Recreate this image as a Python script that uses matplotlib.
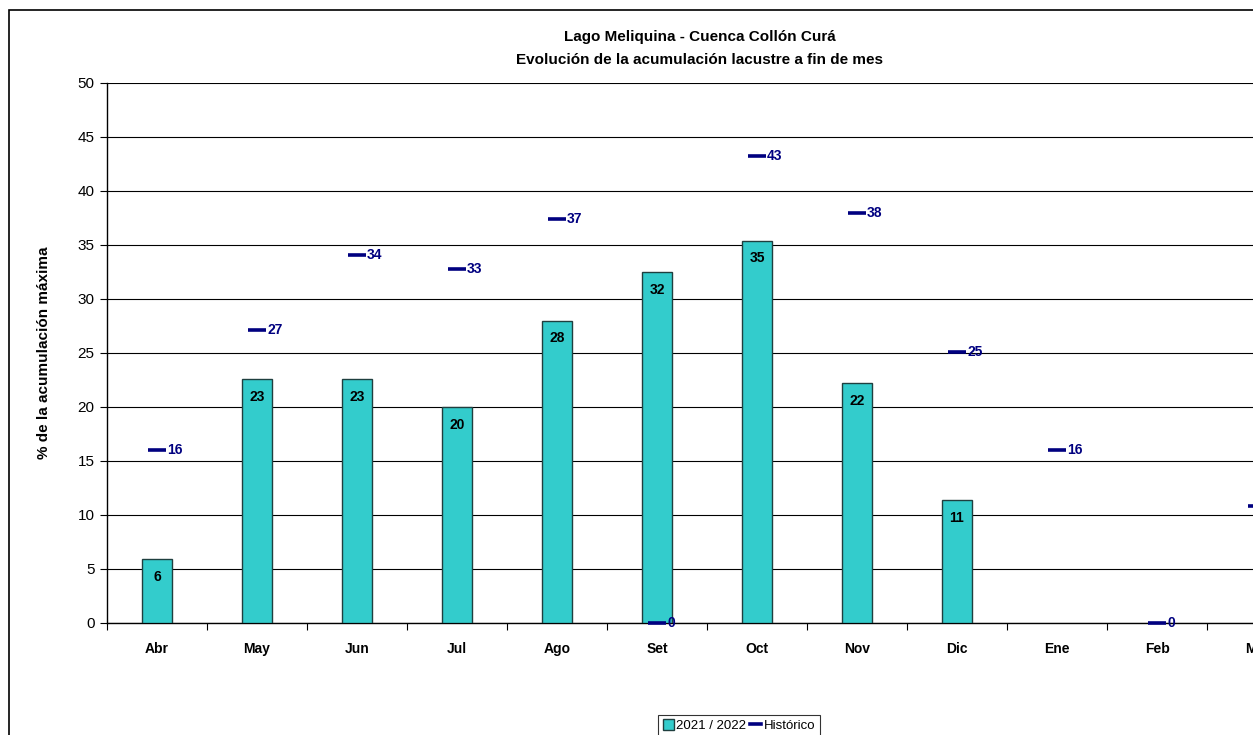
import numpy as np
import matplotlib
matplotlib.use("Agg")
from matplotlib import pyplot as plt
from matplotlib.patches import Rectangle, Patch
from matplotlib.lines import Line2D

months = ["Abr", "May", "Jun", "Jul", "Ago", "Set", "Oct", "Nov", "Dic", "Ene", "Feb", "Mar"]
actual = [5.9, 22.6, 22.6, 20.0, 28.0, 32.5, 35.4, 22.2, 11.4, None, None, None]
historico = [16.0, 27.1, 34.1, 32.8, 37.4, 0.0, 43.2, 38.0, 25.1, 16.0, 0.0, 10.8]

NARROW = ["Liberation Sans Narrow", "Liberation Sans", "DejaVu Sans"]
plt.rcParams["font.family"] = ["Liberation Sans", "DejaVu Sans"]

fig = plt.figure(figsize=(12.53, 7.35), dpi=100)
W, H = 1253, 735

# outer chart frame
fig.patches.append(Rectangle((9 / W, -0.1), 1.2, (H - 10) / H + 0.1, transform=fig.transFigure,
                             fill=False, edgecolor="black", linewidth=1.2))

ax = fig.add_axes([107 / W, (H - 623) / H, 1200 / W, 540 / H])
x = np.arange(len(months))

bar_x = [i for i, v in enumerate(actual) if v is not None]
bar_v = [v for v in actual if v is not None]
ax.bar(bar_x, bar_v, width=0.3, color="#33CCCC", edgecolor="#1f3f3f", linewidth=1.0, zorder=3)
for i, v in zip(bar_x, bar_v):
    ax.text(i, v - 1.0, f"{v:.0f}", ha="center", va="top", fontsize=10, fontweight="bold",
            color="black", zorder=5)

ax.scatter(x, historico, marker="_", s=180, linewidths=2.6, color="#000080", zorder=4, clip_on=False)
for i, v in zip(x, historico):
    ax.text(i + 0.1, v, f"{v:.0f}", ha="left", va="center", fontsize=10, fontweight="bold",
            color="#000080", zorder=5)

ax.set_xlim(-0.5, len(months) - 0.5)
ax.set_ylim(0, 50)
ax.set_yticks(np.arange(0, 51, 5))
ax.yaxis.grid(True, color="black", linewidth=0.8)
ax.set_axisbelow(True)
ax.set_xticks(np.arange(-0.5, len(months), 1))
ax.set_xticklabels([])
ax.set_xticks(x, minor=True)
ax.set_xticklabels(months, minor=True, fontweight="bold", fontsize=10, family=NARROW)
ax.tick_params(axis="x", which="minor", length=0, pad=14)
ax.tick_params(axis="x", which="major", length=5, direction="out")
ax.tick_params(axis="y", length=5, labelsize=11, pad=4)
for s in ["top", "right"]:
    ax.spines[s].set_visible(False)
ax.spines["left"].set_linewidth(1.0)
ax.spines["bottom"].set_linewidth(1.0)

ax.set_ylabel("% de la acumulación máxima", fontsize=11, fontweight="bold", labelpad=19)

fig.text(700 / W, 1 - 37 / H, "Lago Meliquina - Cuenca Collón Curá", ha="center", va="center",
         fontsize=11, fontweight="bold", family=NARROW)
fig.text(700 / W, 1 - 60 / H, "Evolución de la acumulación lacustre a fin de mes", ha="center",
         va="center", fontsize=11, fontweight="bold", family=NARROW)

handles = [Patch(facecolor="#33CCCC", edgecolor="#1f3f3f", label="2021 / 2022"),
           Line2D([], [], color="#000080", linewidth=2.6, label="Histórico")]
leg = fig.legend(handles=handles, loc="upper center", bbox_to_anchor=(739 / W, 1 - 708 / H), ncol=2,
                 frameon=True, fancybox=False, edgecolor="black",
                 handlelength=0.8, handleheight=0.9, handletextpad=0.2, columnspacing=0.3,
                 borderpad=0.35, prop={"family": NARROW, "size": 9.5})
leg.get_frame().set_linewidth(0.8)

fig.savefig("out.png", dpi=100)
